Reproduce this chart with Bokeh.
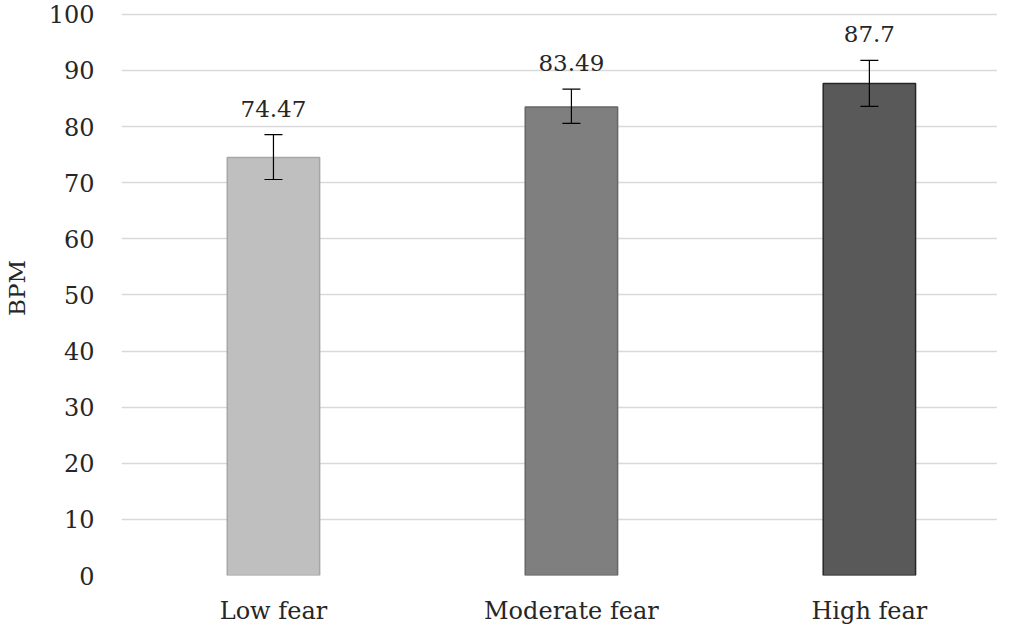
from bokeh.plotting import figure
from bokeh.models import ColumnDataSource, Range1d, FixedTicker, Whisker, LabelSet, TeeHead
from bokeh.core.properties import value
from bokeh.embed import file_html
from bokeh.resources import INLINE

categories = ["Low fear", "Moderate fear", "High fear"]
bpm = [74.47, 83.49, 87.7]
err_up = [4.1, 3.2, 4.1]
err_down = [3.9, 2.9, 4.1]
fills = ["#bfbfbf", "#7f7f7f", "#595959"]
borders = ["#a6a6a6", "#666666", "#262626"]
y_ticks = [0, 10, 20, 30, 40, 50, 60, 70, 80, 90, 100]

xs = [i + 0.5 for i in range(len(categories))]
src = ColumnDataSource(dict(
    x=xs, top=bpm,
    upper=[v + u for v, u in zip(bpm, err_up)],
    lower=[v - d for v, d in zip(bpm, err_down)],
    fill=fills, border=borders,
    label=[str(v) for v in bpm],
))

FONT_SERIF = "DejaVu Serif"

p = figure(width=997, height=627, output_backend="svg", toolbar_location=None,
           x_range=Range1d(-0.01, 2.93), y_range=Range1d(0, 102.47),
           min_border_left=119, min_border_right=0, min_border_top=0, min_border_bottom=47)
p.outline_line_color = None
p.background_fill_color = "white"
p.border_fill_color = "white"

p.vbar(x="x", top="top", bottom=0, width=0.31, source=src,
       fill_color="fill", line_color="border", line_width=1.5)

p.add_layout(Whisker(base="x", upper="upper", lower="lower", source=src,
                     level="overlay",
                     line_color="black", line_width=1.2,
                     upper_head=TeeHead(size=18, line_color="black", line_width=1.2),
                     lower_head=TeeHead(size=18, line_color="black", line_width=1.2)))

p.add_layout(LabelSet(x="x", y="upper", text="label", source=src,
                      text_align="center", text_baseline="alphabetic",
                      y_offset=18, text_font=value(FONT_SERIF),
                      text_font_size=value("23px"),
                      text_color="#262626"))

# axes
p.xaxis.ticker = FixedTicker(ticks=xs)
p.xaxis.major_label_overrides = {x: c for x, c in zip(xs, categories)}
p.xaxis.axis_line_color = None
p.xaxis.major_tick_line_color = None
p.xaxis.minor_tick_line_color = None
p.xaxis.major_label_text_font = FONT_SERIF
p.xaxis.major_label_text_font_size = "24px"
p.xaxis.major_label_text_color = "#262626"
p.xaxis.major_label_standoff = 15

p.yaxis.ticker = FixedTicker(ticks=y_ticks)
p.yaxis.axis_line_color = None
p.yaxis.major_tick_line_color = None
p.yaxis.minor_tick_line_color = None
p.yaxis.major_label_text_font = FONT_SERIF
p.yaxis.major_label_text_font_size = "24px"
p.yaxis.major_label_text_color = "#262626"
p.yaxis.major_label_standoff = 21
p.yaxis.axis_label = "BPM"
p.yaxis.axis_label_text_font = FONT_SERIF
p.yaxis.axis_label_text_font_size = "23px"
p.yaxis.axis_label_text_font_style = "normal"
p.yaxis.axis_label_text_color = "#262626"
p.yaxis.axis_label_standoff = 16

p.xgrid.grid_line_color = None
p.ygrid.grid_line_color = "#d9d9d9"
p.ygrid.grid_line_width = 1.5
p.ygrid.level = "underlay"

open("out.html", "w").write(file_html(p, INLINE))
